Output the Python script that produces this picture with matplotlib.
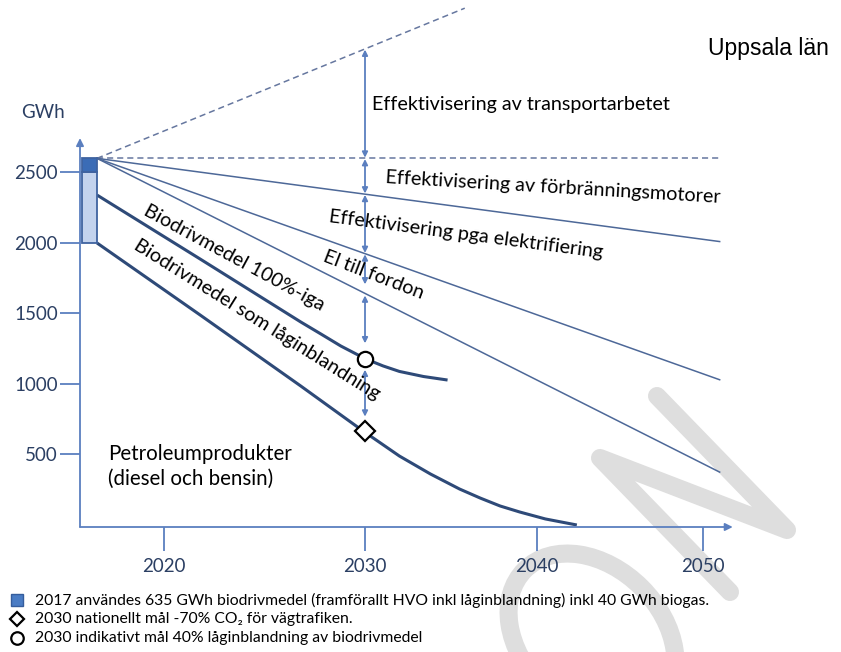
import numpy as np
import matplotlib.pyplot as plt
import matplotlib.transforms as mtransforms
from matplotlib.patches import Ellipse

W, H = 841, 652

# energy use for road transport in Uppsala län, GWh
trend_years = [2017, 2035.8]            # no efficiency gains (dashed)
trend_gwh = [2600, 3665]
base_years = [2017, 2051.1]             # same level as 2017 (dashed)
base_gwh = [2600, 2600]
motor_years = [2017, 2051]              # more efficient engines
motor_gwh = [2600, 2010]
elektr_years = [2017, 2051]             # efficiency from electrification
elektr_gwh = [2600, 1030]
elfordon_years = [2017, 2051]           # electricity to vehicles
elfordon_gwh = [2600, 375]

bio100_years = [2017, 2021.8, 2026.8, 2027.8, 2028.8, 2030.05, 2031.05, 2032.0, 2033.4, 2034.8]
bio100_gwh = [2340, 1886, 1440, 1355, 1269, 1177, 1128, 1089, 1053, 1028]
petro_years = [2017, 2021.8, 2026.8, 2029.9, 2032.0, 2033.8, 2035.5, 2036.7, 2037.85, 2039.0, 2040.5, 2042.4]
petro_gwh = [2000, 1489, 986, 667, 489, 362, 255, 191, 135, 92, 43, 0]

bar_year = 2016.35
bar_width = 0.65
bar_bottom = 2000
bar_bio = 2500
bar_top = 2600

goal_year = 2030
circle_gwh = 1180
diamond_gwh = 670

xticks = [2020, 2030, 2040, 2050]
yticks = [500, 1000, 1500, 2000, 2500]

legend_texts = [
    "2017 användes 635 GWh biodrivmedel (framförallt HVO inkl låginblandning) inkl 40 GWh biogas.",
    "2030 nationellt mål -70% CO\u2082 för vägtrafiken.",
    "2030 indikativt mål 40% låginblandning av biodrivmedel",
]

# the year axis in the original is unevenly spaced
axis_years = [2000, 2016.25, 2017, 2020, 2030, 2040, 2050, 2052.1, 2100]
axis_pos = [-368, 0, 17, 84, 285, 457, 623, 658, 1458]


def fwd(x):
    return np.interp(x, axis_years, axis_pos)


def inv(p):
    return np.interp(p, axis_pos, axis_years)


def at_goal(years, vals):
    return np.interp(fwd(goal_year), fwd(np.array(years)), vals)


axis_col = "#5b7fbf"
thin_col = "#4d6898"
thick_col = "#2e4a78"
label_col = "#2b3f63"
font = ["Lato", "DejaVu Sans"]

fig = plt.figure(figsize=(W / 100, H / 100), dpi=100)
pix = mtransforms.Affine2D().scale(1 / W, -1 / H).translate(0, 1) + fig.transFigure

# watermark in the background
bg = fig.add_axes([0, 0, 1, 1], zorder=0)
bg.set_xlim(0, W)
bg.set_ylim(H, 0)
bg.axis("off")
wm = "#dedede"
bg.plot([730, 600, 787, 657], [592, 458, 530, 396], color=wm, lw=13,
        solid_capstyle="round", solid_joinstyle="round")
bg.add_patch(Ellipse((592, 637), 190, 140, angle=45, fill=False, ec=wm, lw=13))

ax = fig.add_axes([80 / W, (H - 527) / H, 658 / W, 527 / H], zorder=1)
ax.set_facecolor("none")
ax.set_xscale("function", functions=(fwd, inv))
ax.set_xlim(2016.25, 2052.1)
ax.set_ylim(-14.2, 3723)
for s in ax.spines.values():
    s.set_visible(False)

# axes drawn as arrows
ax.annotate("", xy=(0.992, 0), xytext=(0, 0), xycoords="axes fraction",
            arrowprops=dict(arrowstyle="-|>", color=axis_col, lw=1.3,
                            shrinkA=0, shrinkB=0, mutation_scale=11))
ax.annotate("", xy=(0, 0.738), xytext=(0, 0), xycoords="axes fraction",
            arrowprops=dict(arrowstyle="-|>", color=axis_col, lw=1.3,
                            shrinkA=0, shrinkB=0, mutation_scale=11))

ax.set_xticks(xticks)
ax.set_xticklabels([str(t) for t in xticks])
ax.set_yticks(yticks)
ax.set_yticklabels([str(t) for t in yticks])
ax.tick_params(axis="y", direction="out", length=14.4, width=1.3, color=axis_col,
               pad=1.5, labelsize=13.5, labelcolor=label_col)
ax.tick_params(axis="x", direction="out", length=17, width=1.3, color=axis_col,
               pad=5, labelsize=13.5, labelcolor=label_col)
for lab in ax.get_xticklabels() + ax.get_yticklabels():
    lab.set_family(font)

# 2017 bar
ax.bar(bar_year, bar_bio - bar_bottom, bottom=bar_bottom, width=bar_width, align="edge",
       color="#c3d3ee", edgecolor="#3f63a0", lw=1.3, zorder=3)
ax.bar(bar_year, bar_top - bar_bio, bottom=bar_bio, width=bar_width, align="edge",
       color="#3b6cb6", edgecolor="#3f63a0", lw=1.3, zorder=3)

dash = (0, (4, 2.6))
ax.plot(trend_years, trend_gwh, color="#66779f", lw=1.1, ls=dash, zorder=2)
ax.plot(base_years, base_gwh, color="#66779f", lw=1.1, ls=dash, zorder=2)
for yrs, vals in [(motor_years, motor_gwh), (elektr_years, elektr_gwh), (elfordon_years, elfordon_gwh)]:
    ax.plot(yrs, vals, color=thin_col, lw=1.1, zorder=2)
ax.plot(bio100_years, bio100_gwh, color=thick_col, lw=2.2, zorder=2,
        solid_capstyle="butt", solid_joinstyle="round")
ax.plot(petro_years, petro_gwh, color=thick_col, lw=2.2, zorder=2,
        solid_capstyle="butt", solid_joinstyle="round")

# double arrows at 2030
levels = [at_goal(trend_years, trend_gwh), at_goal(base_years, base_gwh),
          at_goal(motor_years, motor_gwh), at_goal(elektr_years, elektr_gwh),
          at_goal(elfordon_years, elfordon_gwh), circle_gwh, diamond_gwh]
shrinks = [(0.5, 0.5), (0.5, 0.5), (0.5, 0.5), (0.5, 6.5), (1.5, 11), (8, 10)]
for (top, bot), (sa, sb) in zip(zip(levels[:-1], levels[1:]), shrinks):
    ax.annotate("", xy=(goal_year, bot), xytext=(goal_year, top),
                arrowprops=dict(arrowstyle="<|-|>", color=axis_col, lw=1.3,
                                shrinkA=sa, shrinkB=sb, mutation_scale=8), zorder=4)

ax.plot([goal_year], [circle_gwh], "o", ms=11, mfc="white", mec="black", mew=1.6, zorder=5)
ax.plot([goal_year], [diamond_gwh], "D", ms=10, mfc="white", mec="black", mew=1.6, zorder=5)

# labels
txt = dict(transform=pix, family=font, color="black", ha="left", va="baseline",
           rotation_mode="anchor")
fs = 14.2
fig.text(372, 110, "Effektivisering av transportarbetet", fontsize=fs, **txt)
fig.text(385, 183, "Effektivisering av förbränningsmotorer", fontsize=fs, rotation=-3.4, **txt)
fig.text(328, 222, "Effektivisering pga elektrifiering", fontsize=fs, rotation=-7.5, **txt)
fig.text(322, 261, "El till fordon", fontsize=fs, rotation=-21, **txt)
fig.text(142, 214, "Biodrivmedel 100%-iga", fontsize=fs, rotation=-28.5, **txt)
fig.text(133, 248, "Biodrivmedel som låginblandning", fontsize=fs, rotation=-32, **txt)
fig.text(108, 460, "Petroleumprodukter", fontsize=14.8, **txt)
fig.text(108, 485, "(diesel och bensin)", fontsize=14.8, **txt)

fig.text(43, 113, "GWh", transform=pix, family=font, color=label_col, fontsize=13.5,
         ha="center", va="center")
fig.text(708, 55, "Uppsala län", transform=pix, family="Liberation Sans", color="black",
         fontsize=16.5, ha="left", va="baseline")

# legend below the chart
leg = fig.add_axes([0, 0, 1, 1], zorder=2)
leg.set_xlim(0, W)
leg.set_ylim(H, 0)
leg.axis("off")
leg.plot([17], [600], "s", ms=9, mfc="#4a7cc4", mec="#355d9c", mew=1)
leg.plot([17], [619], "D", ms=7.5, mfc="white", mec="black", mew=1.6)
leg.plot([17], [638], "o", ms=9, mfc="white", mec="black", mew=1.6)
for y, s in zip([600, 619, 638], legend_texts):
    leg.text(35, y, s, family=font, fontsize=11.3, color="black", ha="left", va="center")

fig.savefig("out.png", dpi=100, facecolor="white")
